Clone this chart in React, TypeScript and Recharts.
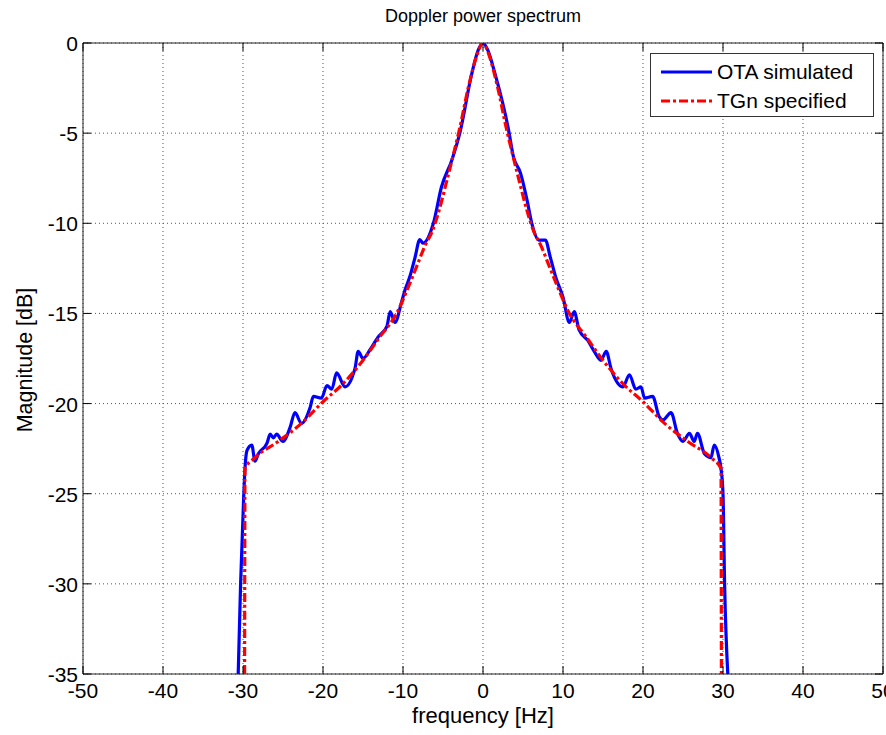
import React from 'react';
import { LineChart, Line, XAxis, YAxis, CartesianGrid, Legend, ReferenceArea } from 'recharts';

// OTA simulated (blue), left to right
const otaFreq = [
  -30.6, -30.3, -29.9, -29.75, -29.5, -28.9, -28.5, -28.1, -27.0, -26.6, -26.2, -25.8, -25.0,
  -24.1, -23.5, -22.7, -21.6, -21.2, -20.2, -19.5, -18.9, -18.3, -17.25, -16.0, -15.6, -15.0,
  -14.1, -13.1, -12.0, -11.6, -11.0, -10.2, -9.75, -9.1, -8.5, -7.9, -7.5, -6.2, -5.2, -3.9,
  -2.9, -1.4, -0.6, 0,
  0.6, 1.5, 3.2, 3.8, 4.7, 5.5, 6.1, 7.0, 7.8, 8.4, 9.1, 10.0, 10.8, 11.4, 12.0, 13.1, 13.9,
  14.75, 15.4, 16.0, 17.5, 18.3, 19.1, 19.75, 20.2, 21.2, 22.0, 22.5, 23.5, 24.3, 25.0, 25.8,
  26.4, 26.8, 27.7, 28.5, 28.9, 29.5, 29.75, 30.0, 30.2, 30.6,
];
const otaMag = [
  -35, -30, -25, -23.6, -22.6, -22.3, -23.2, -22.8, -22.2, -21.7, -21.9, -21.7, -22.1,
  -21.3, -20.5, -21.1, -20.2, -19.6, -19.7, -19.0, -19.2, -18.3, -19.07, -18.05, -17.1, -17.5,
  -17.0, -16.3, -15.7, -14.9, -15.5, -14.4, -13.7, -12.9, -11.9, -10.9, -11.1, -10.0, -8.0, -6.5,
  -5.0, -1.7, -0.4, 0,
  -0.4, -1.7, -4.83, -6.3, -7.23, -8.7, -10.0, -10.93, -10.93, -11.86, -13.0, -14.1, -15.5, -14.9,
  -15.9, -16.5, -17.1, -17.6, -17.1, -18.05, -19.07, -18.4, -19.2, -19.07, -19.7, -19.6, -20.7,
  -20.9, -20.5, -21.65, -22.1, -21.65, -22.1, -21.65, -22.8, -23.0, -22.3, -23.0, -23.6, -25,
  -30, -35,
];

// TGn specified (red, dash-dot)
const tgnFreq = [
  -29.8, -29.75, -28.5, -25.6, -22.7, -20, -17.5, -15.0, -12.9, -10.8, -9.3, -8.3, -7.3, -6.3,
  -5.5, -4.5, -3.6, -3.0, -1.75, -0.7, 0, 0.7, 1.75, 3.0, 3.6, 4.5, 5.5, 6.3, 7.3, 8.3, 9.3,
  10.8, 12.9, 15.0, 17.5, 20, 22.7, 25.6, 28.5, 29.75, 29.8,
];
const tgnMag = [
  -35, -23.6, -23.0, -22.1, -21.1, -19.9, -18.9, -17.6, -16.3, -15.0, -13.5, -12.4, -11.3, -10.4,
  -9.3, -7.6, -6.0, -4.9, -2.3, -0.6, 0, -0.6, -2.3, -4.9, -6.0, -7.6, -9.3, -10.4, -11.3, -12.4,
  -13.5, -15.0, -16.3, -17.6, -18.9, -19.9, -21.1, -22.1, -23.0, -23.6, -35,
];

const xTicks = [-50, -40, -30, -20, -10, 0, 10, 20, 30, 40, 50];
const yTicks = [-35, -30, -25, -20, -15, -10, -5, 0];

const otaData = otaFreq.map((f, i) => ({ f, mag: otaMag[i] }));
const tgnData = tgnFreq.map((f, i) => ({ f, mag: tgnMag[i] }));

const W = 886;
const H = 735;
const TOP = 43;
const BOTTOM = 674;
const LEFT = 83;
const RIGHT = 883;
const X_AXIS_H = 40;
const Y_AXIS_W = 50;
const TICK_LEN = 8;
const FONT = '"Liberation Sans", Arial, Helvetica, sans-serif';

const series = [
  { name: 'OTA simulated', color: '#0000ff', dash: undefined as string | undefined },
  { name: 'TGn specified', color: '#ff0000', dash: '9 3 3 3' },
];

const renderXTick = (props: any) => {
  const { x, payload } = props;
  return (
    <g key={`xt-${payload.value}`}>
      <line x1={x} x2={x} y1={BOTTOM} y2={BOTTOM - TICK_LEN} stroke="#000" />
      <line x1={x} x2={x} y1={TOP} y2={TOP + TICK_LEN} stroke="#000" />
      <text x={x} y={BOTTOM + 24} textAnchor="middle" fontSize={21} fontFamily={FONT} fill="#000">
        {payload.value}
      </text>
    </g>
  );
};

const renderYTick = (props: any) => {
  const { y, payload } = props;
  return (
    <g key={`yt-${payload.value}`}>
      <line x1={LEFT} x2={LEFT + TICK_LEN} y1={y} y2={y} stroke="#000" />
      <line x1={RIGHT} x2={RIGHT - TICK_LEN} y1={y} y2={y} stroke="#000" />
      <text x={LEFT - 5} y={y + 8} textAnchor="end" fontSize={21} fontFamily={FONT} fill="#000">
        {payload.value}
      </text>
    </g>
  );
};

const LegendBox = () => (
  <div
    style={{
      width: 224,
      height: 64,
      border: '1px solid #333',
      background: '#fff',
      boxSizing: 'border-box',
      padding: '3px 0 0 10px',
      fontFamily: FONT,
      fontSize: 21,
      color: '#000',
    }}
  >
    {series.map((s) => (
      <div key={s.name} style={{ display: 'flex', alignItems: 'center', height: 29 }}>
        <svg width={51} height={10} style={{ marginRight: 5 }}>
          <line x1={0} x2={51} y1={5} y2={5} stroke={s.color} strokeWidth={3} strokeDasharray={s.dash} />
        </svg>
        <span>{s.name}</span>
      </div>
    ))}
  </div>
);

export default function App() {
  return (
    <div style={{ position: 'absolute', left: 0, top: 0, width: W, height: H, background: '#fff', overflow: 'hidden' }}>
      <div
        style={{
          position: 'absolute', left: LEFT, width: RIGHT - LEFT, top: 6, textAlign: 'center',
          fontFamily: FONT, fontSize: 18, color: '#000',
        }}
      >
        Doppler power spectrum
      </div>
      <div
        style={{
          position: 'absolute', left: LEFT, width: RIGHT - LEFT, top: 703, textAlign: 'center',
          fontFamily: FONT, fontSize: 22, color: '#000',
        }}
      >
        frequency [Hz]
      </div>
      <div
        style={{
          position: 'absolute', left: 25, top: 360, transform: 'translate(-50%, -50%) rotate(-90deg)',
          whiteSpace: 'nowrap', fontFamily: FONT, fontSize: 21.5, color: '#000',
        }}
      >
        Magnitude [dB]
      </div>
      <LineChart
        width={W}
        height={H}
        margin={{ top: TOP, left: LEFT - Y_AXIS_W, right: W - RIGHT, bottom: H - BOTTOM - X_AXIS_H }}
        style={{ position: 'absolute', left: 0, top: 0 }}
      >
        <CartesianGrid stroke="#555" strokeDasharray="1 3" />
        <XAxis
          type="number"
          dataKey="f"
          domain={[-50, 50]}
          ticks={xTicks}
          height={X_AXIS_H}
          tickLine={false}
          axisLine={false}
          tick={renderXTick}
          interval={0}
          allowDataOverflow
        />
        <YAxis
          type="number"
          dataKey="mag"
          domain={[-35, 0]}
          ticks={yTicks}
          width={Y_AXIS_W}
          tickLine={false}
          axisLine={false}
          tick={renderYTick}
          interval={0}
          allowDataOverflow
        />
        <ReferenceArea x1={-50} x2={50} y1={-35} y2={0} fill="none" fillOpacity={0} stroke="#222" strokeWidth={1} ifOverflow="visible" />
        <Line
          data={otaData}
          dataKey="mag"
          name={series[0].name}
          type="monotone"
          stroke={series[0].color}
          strokeWidth={3.2}
          dot={false}
          activeDot={false}
          isAnimationActive={false}
        />
        <Line
          data={tgnData}
          dataKey="mag"
          name={series[1].name}
          type="monotone"
          stroke={series[1].color}
          strokeWidth={3.2}
          strokeDasharray={series[1].dash}
          dot={false}
          activeDot={false}
          isAnimationActive={false}
        />
        <Legend
          layout="vertical"
          align="center"
          verticalAlign="middle"
          content={<LegendBox />}
          wrapperStyle={{ left: 650, top: 53, width: 224, height: 64 }}
        />
      </LineChart>
    </div>
  );
}
